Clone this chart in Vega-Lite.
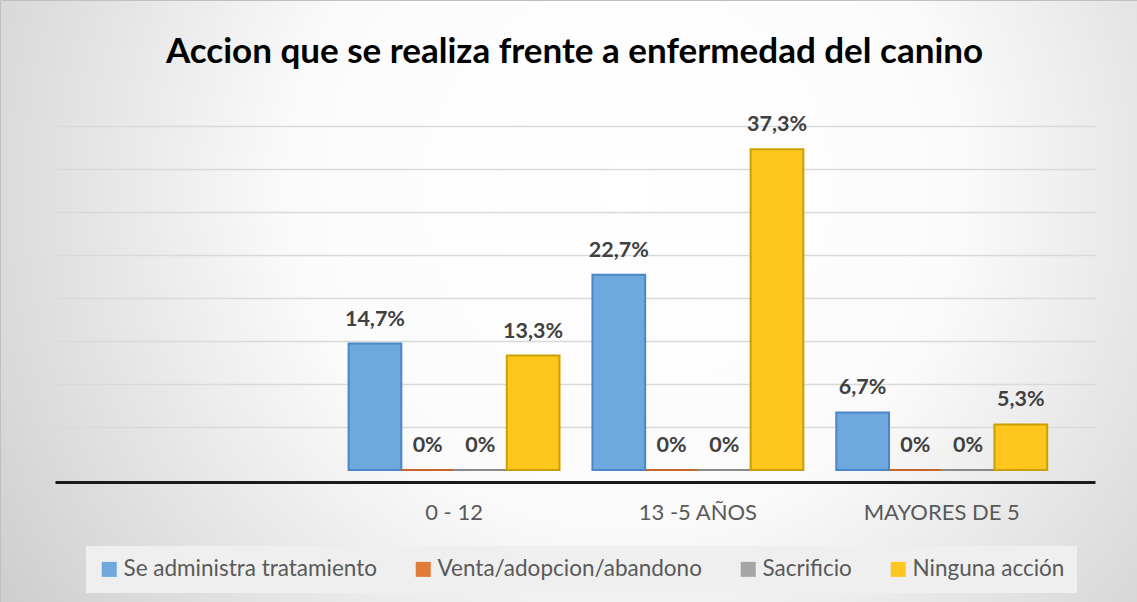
{
  "$schema": "https://vega.github.io/schema/vega-lite/v6.json",
  "width": 1137,
  "height": 602,
  "autosize": {"type": "none"},
  "padding": 0,
  "background": "white",
  "config": {
    "locale": {"number": {"decimal": ",", "thousands": ".", "grouping": [3], "currency": ["", " €"]}},
    "view": {
      "stroke": "#c0c0c0",
      "fill": {
        "gradient": "radial",
        "x1": 0.55, "y1": 0.4, "r1": 0,
        "x2": 0.55, "y2": 0.4, "r2": 0.72,
        "stops": [
          {"offset": 0, "color": "#ffffff"},
          {"offset": 0.4, "color": "#fbfbfb"},
          {"offset": 1, "color": "#c6c6c6"}
        ]
      }
    },
    "font": "Lato"
  },
  "title": {
    "text": "Accion que se realiza frente a enfermedad del canino",
    "anchor": "middle",
    "frame": "group",
    "offset": -70,
    "dx": 6,
    "fontSize": 35,
    "fontWeight": "bold",
    "color": "#000000",
    "font": "Lato"
  },
  "data": {
    "values": [
      {"grupo": "0 - 12", "accion": "Se administra tratamiento", "valor": 0.147},
      {"grupo": "0 - 12", "accion": "Venta/adopcion/abandono", "valor": 0},
      {"grupo": "0 - 12", "accion": "Sacrificio", "valor": 0},
      {"grupo": "0 - 12", "accion": "Ninguna acción", "valor": 0.133},
      {"grupo": "13 -5 AÑOS", "accion": "Se administra tratamiento", "valor": 0.227},
      {"grupo": "13 -5 AÑOS", "accion": "Venta/adopcion/abandono", "valor": 0},
      {"grupo": "13 -5 AÑOS", "accion": "Sacrificio", "valor": 0},
      {"grupo": "13 -5 AÑOS", "accion": "Ninguna acción", "valor": 0.373},
      {"grupo": "MAYORES DE 5", "accion": "Se administra tratamiento", "valor": 0.067},
      {"grupo": "MAYORES DE 5", "accion": "Venta/adopcion/abandono", "valor": 0},
      {"grupo": "MAYORES DE 5", "accion": "Sacrificio", "valor": 0},
      {"grupo": "MAYORES DE 5", "accion": "Ninguna acción", "valor": 0.053}
    ]
  },
  "encoding": {
    "x": {
      "field": "grupo",
      "type": "nominal",
      "sort": ["0 - 12", "13 -5 AÑOS", "MAYORES DE 5"],
      "scale": {"range": [55, 1095], "paddingInner": 0.135, "paddingOuter": 0.7, "align": 0.86},
      "axis": {
        "title": null,
        "orient": "bottom",
        "offset": -120,
        "domainColor": "#1a1a1a",
        "domainWidth": 3,
        "ticks": false,
        "labelAngle": 0,
        "labelFontSize": 22,
        "labelColor": "#595959",
        "labelPadding": 20,
        "labelFont": "Lato"
      }
    },
    "xOffset": {
      "field": "accion",
      "type": "nominal",
      "sort": ["Se administra tratamiento", "Venta/adopcion/abandono", "Sacrificio", "Ninguna acción"]
    },
    "y": {
      "field": "valor",
      "type": "quantitative",
      "scale": {"domain": [0, 0.4], "range": [470, 126]},
      "axis": {
        "title": null,
        "labels": false,
        "ticks": false,
        "domain": false,
        "values": [0.05, 0.1, 0.15, 0.2, 0.25, 0.3, 0.35, 0.4],
        "gridColor": "#d9d9d9",
        "gridWidth": 1.5
      }
    }
  },
  "layer": [
    {
      "mark": {"type": "bar", "strokeWidth": 2},
      "encoding": {
        "color": {
          "field": "accion",
          "type": "nominal",
          "sort": ["Se administra tratamiento", "Venta/adopcion/abandono", "Sacrificio", "Ninguna acción"],
          "scale": {"range": ["#6FA8DC", "#E07B39", "#A5A5A5", "#FFC61E"]},
          "legend": {
            "title": null,
            "orient": "none",
            "direction": "horizontal",
            "legendX": 86,
            "legendY": 546,
            "fillColor": "#efefef",
            "padding": 12,
            "symbolType": "square",
            "symbolSize": 225,
            "symbolStrokeWidth": 1.5,
            "labelFontSize": 22.5,
            "labelColor": "#595959",
            "labelFont": "Lato",
            "labelOffset": 3,
            "columnPadding": 35,
            "labelLimit": 400
          }
        },
        "stroke": {
          "field": "accion",
          "type": "nominal",
          "sort": ["Se administra tratamiento", "Venta/adopcion/abandono", "Sacrificio", "Ninguna acción"],
          "scale": {"range": ["#4A86C8", "#C5652A", "#8A8A8A", "#C9A000"]},
          "legend": null
        }
      }
    },
    {
      "mark": {"type": "text", "dy": -24, "fontSize": 21.5, "fontWeight": "bold", "color": "#404040", "baseline": "middle", "font": "Lato"},
      "encoding": {
        "text": {"field": "valor", "type": "quantitative", "format": ".1~%"}
      }
    }
  ]
}
